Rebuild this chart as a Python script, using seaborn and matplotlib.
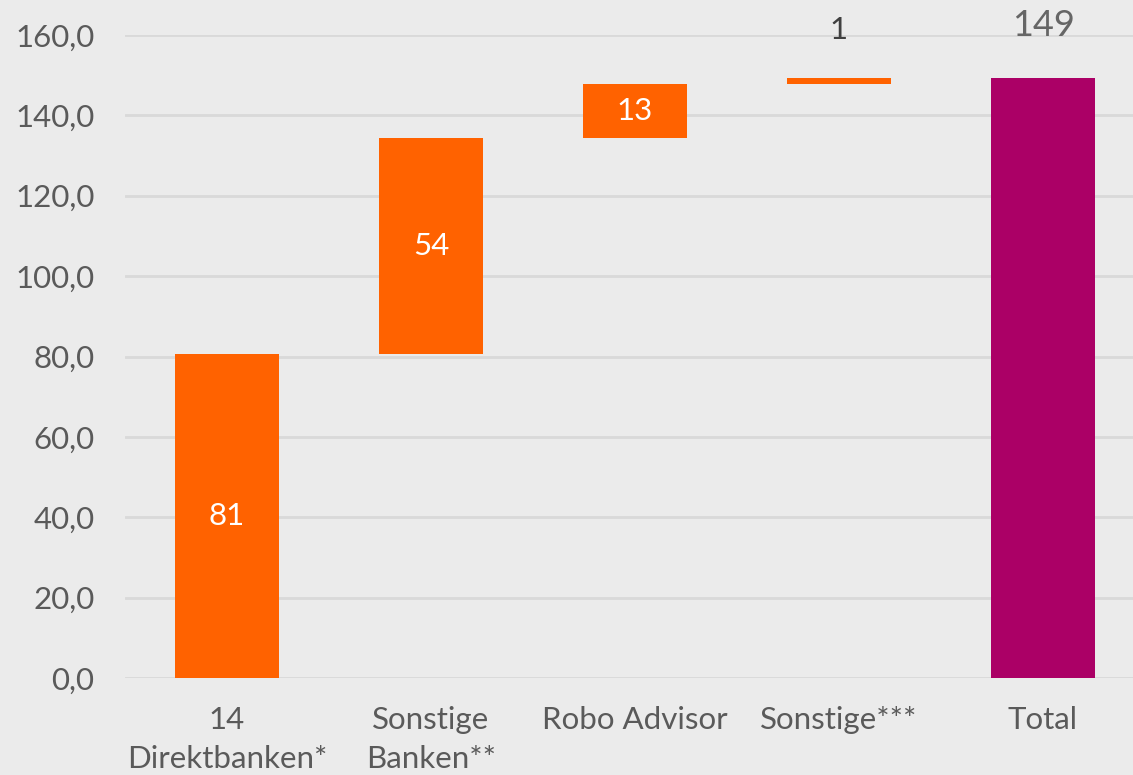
import numpy as np
import pandas as pd
import matplotlib
matplotlib.use('Agg')
import matplotlib.pyplot as plt
import seaborn as sns

# waterfall data
categories = ['14\nDirektbanken*', 'Sonstige\nBanken**', 'Robo Advisor', 'Sonstige***', 'Total']
steps = [80.6, 53.8, 13.4, 1.4]
labels = ['81', '54', '13', '1', '149']

total = sum(steps)
heights = steps + [total]
bottoms = list(np.cumsum([0] + steps[:-1])) + [0]

orange = '#FF6200'
purple = '#AB0066'
bg = '#EBEBEB'
grid_col = '#D9D9D9'
txt = '#5A5A5A'

sns.set_style('white')
plt.rcParams['font.family'] = ['Lato', 'DejaVu Sans']

df = pd.DataFrame({'cat': categories, 'height': heights, 'bottom': bottoms})

fig = plt.figure(figsize=(11.33, 7.75), dpi=100, facecolor=bg)
ax = fig.add_axes([125 / 1133, 97 / 775, 1020 / 1133, 643 / 775])
ax.set_facecolor(bg)

sns.barplot(data=df, x='cat', y='height', bottom=df['bottom'].values, color=orange,
            width=0.505, saturation=1, linewidth=0, ax=ax, zorder=3)
ax.patches[-1].set_facecolor(purple)

ax.set_ylim(0, 160)
ax.set_xlim(-0.5, 4.5)
ax.set_yticks(np.arange(0, 161, 20))
ax.set_yticklabels([f'{v:.1f}'.replace('.', ',') for v in np.arange(0, 161, 20)])
ax.yaxis.grid(True, color=grid_col, linewidth=2, zorder=0)
ax.set_axisbelow(True)
for s in ax.spines.values():
    s.set_visible(False)
ax.tick_params(axis='both', length=0, labelsize=22.5, labelcolor=txt)
ax.tick_params(axis='y', pad=22)
ax.tick_params(axis='x', pad=20)
for t in ax.get_xticklabels():
    t.set_linespacing(1.5)
ax.set_xlabel('')
ax.set_ylabel('')

# value labels
for i in range(3):
    ax.text(i, bottoms[i] + heights[i] / 2, labels[i], ha='center', va='center',
            color='white', fontsize=22.5, zorder=4)
ax.text(3, 161.3, labels[3], ha='center', va='center', color='#404040',
        fontsize=22.5, clip_on=False)
ax.text(4, 162.3, labels[4], ha='center', va='center', color='#666666',
        fontsize=26, clip_on=False)

fig.savefig('out.png', dpi=100, facecolor=bg)
